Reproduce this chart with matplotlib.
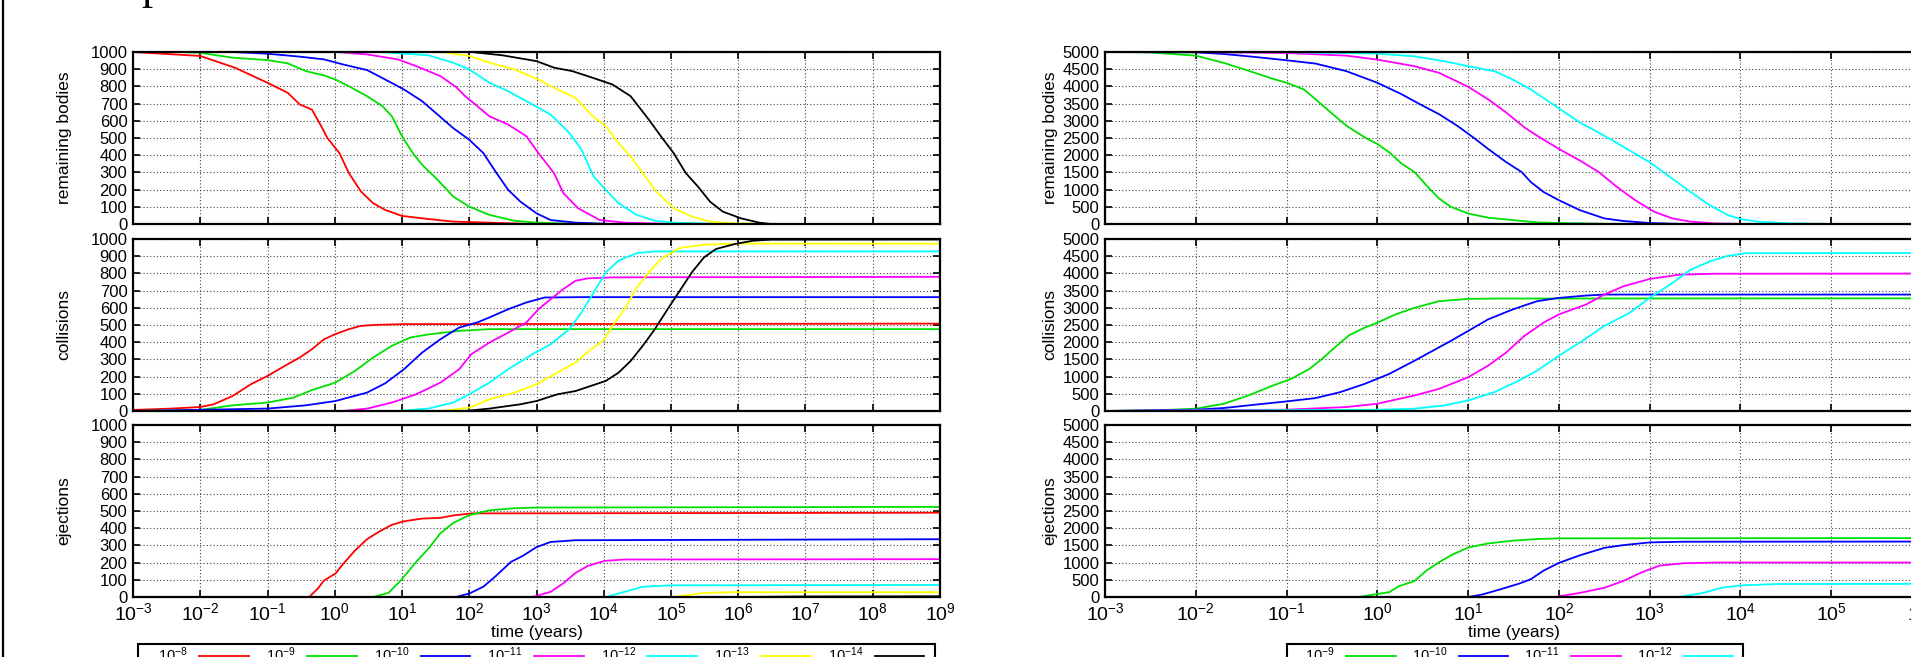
import numpy as np
import matplotlib
matplotlib.use('Agg')
import matplotlib.pyplot as plt
from matplotlib.lines import Line2D
from matplotlib.patches import Rectangle
from matplotlib.ticker import FixedLocator, NullLocator, FuncFormatter

W, H = 1911, 657
plt.rcParams['font.family'] = 'Liberation Sans'
plt.rcParams['mathtext.fontset'] = 'custom'
plt.rcParams['mathtext.rm'] = 'Liberation Sans'
plt.rcParams['mathtext.it'] = 'Liberation Sans:italic'

##############################
# data: log10(time / years) and counts
left_labels = [r'$10^{-8}$', r'$10^{-9}$', r'$10^{-10}$', r'$10^{-11}$',
               r'$10^{-12}$', r'$10^{-13}$', r'$10^{-14}$']
left_colors = ['#ff0000', '#00e000', '#0000ff', '#ff00ff', '#00ffff', '#ffff00', '#000000']
right_labels = left_labels[1:5]
right_colors = left_colors[1:5]

left_rem_lt = [
    [-3, -2, -1.48, -1, -0.7, -0.52, -0.34, -0.2, -0.11, 0.07, 0.21, 0.39, 0.57, 0.75, 1.0, 1.39, 1.76, 2.3, 2.94, 9],
    [-3, -2.25, -2, -1.52, -1, -0.7, -0.43, -0.16, 0.01, 0.21, 0.48, 0.71, 0.85, 1.0, 1.16, 1.3, 1.53, 1.76, 2.0, 2.3, 2.67, 3.0, 3.67, 9],
    [-3, -1.52, -1, -0.52, -0.16, 0.12, 0.48, 0.75, 1.03, 1.3, 1.53, 1.76, 2.0, 2.21, 2.39, 2.58, 2.76, 3.0, 3.21, 3.58, 4.13, 9],
    [-3, 0.03, 0.48, 0.94, 1.21, 1.57, 1.8, 1.94, 2.12, 2.3, 2.58, 2.85, 3.03, 3.26, 3.4, 3.62, 3.94, 4.31, 5.04, 9],
    [-3, 0.66, 1.39, 1.76, 2.0, 2.3, 2.58, 2.94, 3.21, 3.49, 3.67, 3.85, 4.03, 4.22, 4.49, 4.76, 5.04, 5.77, 9],
    [-3, 1.57, 2.0, 2.3, 2.67, 3.03, 3.31, 3.58, 3.81, 4.03, 4.22, 4.4, 4.58, 4.76, 5.04, 5.31, 5.58, 5.95, 6.49, 9],
    [-3, 2.03, 2.49, 3.0, 3.26, 3.53, 3.76, 4.13, 4.4, 4.67, 4.85, 5.04, 5.22, 5.4, 5.58, 5.77, 6.04, 6.31, 6.49, 9],
]
left_rem_n = [
    [1000, 977, 908, 821, 763, 695, 665, 568, 500, 412, 296, 189, 121, 82, 47, 29, 14, 8, 0, 0],
    [1000, 1000, 995, 967, 953, 934, 889, 864, 840, 801, 743, 685, 626, 510, 412, 344, 257, 160, 101, 53, 19, 8, 0, 0],
    [1000, 1000, 990, 973, 957, 928, 895, 840, 782, 714, 636, 558, 490, 412, 305, 198, 130, 62, 23, 8, 0, 0],
    [1000, 1000, 986, 957, 918, 860, 798, 743, 685, 626, 578, 510, 412, 296, 179, 91, 23, 8, 0, 0],
    [1000, 1000, 981, 938, 899, 821, 772, 695, 636, 529, 432, 276, 198, 121, 53, 19, 8, 0, 0],
    [1000, 1000, 977, 938, 899, 840, 782, 733, 636, 568, 471, 393, 296, 198, 91, 43, 14, 4, 0, 0],
    [1000, 1000, 981, 947, 909, 889, 860, 811, 743, 607, 510, 412, 296, 218, 130, 72, 33, 8, 0, 0],
]

left_col_lt = [
    [-3, -2.44, -2, -1.8, -1.52, -1.25, -1, -0.7, -0.52, -0.34, -0.16, 0.01, 0.21, 0.39, 0.62, 1.03, 9],
    [-3, -2, -1.52, -1, -0.61, -0.34, 0.01, 0.3, 0.57, 0.85, 1.12, 1.39, 1.85, 2.3, 9],
    [-3, -1, -0.43, 0.01, 0.48, 0.75, 1.03, 1.3, 1.57, 1.85, 2.12, 2.3, 2.58, 2.85, 3.12, 3.67, 9],
    [-3, 0.12, 0.48, 0.85, 1.21, 1.57, 1.85, 2.03, 2.3, 2.58, 2.85, 3.03, 3.21, 3.4, 3.58, 3.76, 4.13, 9],
    [-3, 0.94, 1.39, 1.76, 2.0, 2.3, 2.58, 2.94, 3.21, 3.49, 3.67, 3.85, 4.03, 4.22, 4.49, 4.76, 9],
    [-3, 1.57, 2.0, 2.3, 2.67, 3.0, 3.31, 3.58, 3.81, 3.99, 4.13, 4.31, 4.49, 4.67, 4.85, 5.13, 5.49, 5.95, 9],
    [-3, 1.94, 2.3, 2.76, 3.0, 3.31, 3.58, 3.81, 4.03, 4.22, 4.4, 4.58, 4.76, 4.95, 5.13, 5.31, 5.49, 5.67, 5.95, 6.22, 6.49, 9],
]
left_col_n = [
    [6, 14, 23, 39, 87, 155, 204, 272, 311, 359, 417, 447, 476, 495, 501, 505, 508],
    [0, 6, 33, 49, 78, 122, 165, 233, 311, 379, 427, 445, 466, 476, 476],
    [0, 14, 33, 58, 107, 161, 243, 340, 417, 485, 515, 544, 592, 631, 660, 662, 662],
    [0, 0, 14, 49, 97, 165, 243, 330, 398, 456, 515, 592, 650, 709, 757, 771, 777, 780],
    [0, 0, 14, 49, 97, 165, 243, 330, 388, 476, 573, 689, 806, 874, 918, 928, 928],
    [0, 0, 19, 68, 107, 155, 223, 282, 359, 408, 495, 592, 718, 806, 883, 948, 967, 973, 973],
    [0, 0, 14, 39, 58, 97, 116, 146, 175, 223, 291, 379, 476, 592, 699, 806, 893, 942, 971, 990, 996, 997],
]

left_ej_lt = [
    [-3, -0.38, -0.25, -0.16, 0.01, 0.12, 0.3, 0.48, 0.66, 0.85, 1.03, 1.3, 1.57, 1.76, 2.03, 9],
    [-3, 0.57, 0.8, 1.0, 1.21, 1.39, 1.57, 1.76, 2.0, 2.3, 2.67, 3.0, 9],
    [-3, 1.8, 2.0, 2.21, 2.39, 2.62, 2.8, 3.0, 3.21, 3.58, 9],
    [-3, 2.94, 3.21, 3.4, 3.58, 3.76, 4.01, 4.31, 9],
    [-3, 4.03, 4.4, 4.58, 5.01, 9],
    [-3, 5.04, 5.49, 5.95, 9],
    [-3, 6.0, 7.0, 9],
]
left_ej_n = [
    [0, 0, 50, 96, 136, 190, 270, 336, 380, 420, 440, 456, 460, 474, 486, 490],
    [0, 0, 24, 104, 204, 280, 370, 430, 476, 504, 516, 520, 524],
    [0, 0, 20, 60, 120, 204, 240, 290, 320, 330, 336],
    [0, 0, 30, 80, 140, 180, 210, 218, 220],
    [0, 0, 40, 60, 68, 70],
    [0, 0, 24, 28, 28],
    [0, 0, 3, 4],
]

right_rem_lt = [
    [-3, -2.51, -2, -1.69, -1.35, -1.15, -1, -0.81, -0.68, -0.47, -0.34, -0.14, 0, 0.13, 0.27, 0.41, 0.54, 0.68, 0.81, 1.0, 1.22, 1.49, 1.76, 2.0, 2.71, 9],
    [-3, -2, -1.69, -1.35, -1, -0.68, -0.34, 0, 0.27, 0.47, 0.68, 0.88, 1.08, 1.22, 1.42, 1.59, 1.69, 1.83, 2.0, 2.23, 2.5, 2.71, 3.0, 3.38, 9],
    [-3, -2, -1, -0.34, 0, 0.41, 0.68, 1.0, 1.22, 1.42, 1.62, 1.76, 2.0, 2.23, 2.44, 2.64, 2.84, 3.05, 3.25, 3.45, 3.72, 4.06, 9],
    [-3, -1, 0, 0.41, 0.74, 1.0, 1.29, 1.49, 1.69, 1.96, 2.23, 2.5, 2.78, 3.0, 3.25, 3.45, 3.66, 3.86, 4.0, 4.2, 4.54, 5.08, 9],
]
right_rem_n = [
    [5000, 4990, 4894, 4683, 4394, 4221, 4106, 3913, 3625, 3144, 2856, 2519, 2327, 2087, 1750, 1510, 1125, 740, 500, 308, 183, 115, 48, 29, 0, 0],
    [5000, 4990, 4942, 4856, 4760, 4663, 4442, 4106, 3769, 3481, 3192, 2856, 2471, 2183, 1798, 1510, 1221, 933, 692, 404, 163, 87, 29, 0, 0],
    [5000, 4998, 4971, 4894, 4779, 4587, 4394, 3990, 3625, 3240, 2808, 2567, 2183, 1846, 1510, 1077, 692, 356, 163, 67, 19, 0, 0],
    [5000, 4995, 4952, 4875, 4731, 4587, 4442, 4202, 3913, 3433, 2952, 2567, 2135, 1798, 1317, 933, 548, 260, 144, 67, 19, 0, 0],
]

right_col_lt = [
    [-3, -2.44, -2, -1.69, -1.42, -1.15, -0.95, -0.75, -0.61, -0.47, -0.31, -0.14, 0, 0.2, 0.41, 0.68, 1.0, 1.35, 9],
    [-3, -2, -1.69, -1.35, -1, -0.68, -0.41, -0.14, 0.13, 0.41, 0.61, 0.81, 1.0, 1.22, 1.49, 1.76, 2.0, 2.3, 2.5, 9],
    [-3, -1, -0.34, 0, 0.41, 0.68, 1.0, 1.22, 1.42, 1.62, 1.83, 2.0, 2.3, 2.5, 2.71, 3.0, 3.32, 3.72, 9],
    [-3, 0, 0.41, 0.74, 1.0, 1.29, 1.56, 1.76, 2.0, 2.23, 2.5, 2.78, 3.0, 3.25, 3.45, 3.66, 3.86, 4.06, 9],
]
right_col_n = [
    [0, 19, 67, 212, 452, 740, 933, 1221, 1510, 1846, 2202, 2423, 2567, 2808, 3000, 3192, 3260, 3269, 3279],
    [0, 38, 87, 183, 279, 375, 548, 788, 1077, 1462, 1750, 2038, 2327, 2663, 2952, 3192, 3288, 3356, 3385, 3385],
    [0, 38, 115, 212, 452, 644, 981, 1317, 1702, 2183, 2567, 2808, 3096, 3385, 3625, 3837, 3962, 3990, 4000],
    [0, 38, 67, 163, 308, 548, 885, 1173, 1606, 1990, 2471, 2856, 3288, 3721, 4106, 4346, 4510, 4587, 4606],
]

right_ej_lt = [
    [-3, -0.2, 0, 0.13, 0.24, 0.41, 0.54, 0.68, 0.81, 1.0, 1.22, 1.49, 1.76, 2.03, 9],
    [-3, 1.0, 1.15, 1.35, 1.56, 1.69, 1.83, 2.0, 2.23, 2.5, 2.71, 3.0, 3.38, 9],
    [-3, 1.96, 2.23, 2.5, 2.71, 2.91, 3.11, 3.38, 3.72, 9],
    [-3, 3.32, 3.59, 3.79, 4.0, 4.4, 9],
]
right_ej_n = [
    [0, 0, 89, 139, 317, 466, 764, 1012, 1210, 1438, 1557, 1637, 1686, 1706, 1716],
    [0, 0, 69, 218, 387, 516, 764, 992, 1210, 1428, 1508, 1587, 1607, 1617],
    [0, 0, 119, 268, 466, 714, 913, 982, 1002, 1003],
    [0, 0, 119, 268, 337, 377, 390],
]

ylabels = ['remaining bodies', 'collisions', 'ejections']

##############################
fig = plt.figure(figsize=(W/100, H/100), dpi=100)

def px(x0, y0, x1, y1):
    # pixel box -> figure fraction rect
    return [x0/W, 1-y1/H, (x1-x0)/W, (y1-y0)/H]

tops = [52, 239, 425]
hgt = 172

def decade_fmt(v, pos):
    return r'$10^{%d}$' % int(round(np.log10(v)))

def make_panel(x0, x1, top, xmax, ymax, ystep, bottom):
    ax = fig.add_axes(px(x0, top, x1, top+hgt))
    ax.set_xscale('log')
    ax.set_xlim(1e-3, 10.0**xmax)
    ax.set_ylim(0, ymax)
    ax.xaxis.set_major_locator(FixedLocator(10.0**np.arange(-3, xmax+1)))
    ax.xaxis.set_minor_locator(NullLocator())
    ax.set_yticks(np.arange(0, ymax+1, ystep))
    ax.grid(True, color='#444444', ls=(0, (1, 2)), lw=0.8)
    ax.tick_params(axis='both', direction='in', top=True, right=True,
                   length=5, width=1.2, colors='black')
    ax.tick_params(axis='y', labelsize=12, pad=4)
    ax.tick_params(axis='x', labelsize=14, pad=4)
    if bottom:
        ax.xaxis.set_major_formatter(FuncFormatter(decade_fmt))
    else:
        ax.set_xticklabels([])
    for s in ax.spines.values():
        s.set_linewidth(1.6)
    return ax

def draw(ax, lts, ns, colors):
    for lt, n, c in zip(lts, ns, colors):
        ax.plot(10.0**np.array(lt), n, color=c, lw=1.3)

# left block
lx0, lx1 = 133, 940
left_sets = [(left_rem_lt, left_rem_n), (left_col_lt, left_col_n), (left_ej_lt, left_ej_n)]
for i, (lts, ns) in enumerate(left_sets):
    ax = make_panel(lx0, lx1, tops[i], 9, 1000, 100, i == 2)
    draw(ax, lts, ns, left_colors)
    fig.text(64/W, 1-(tops[i]+hgt/2)/H, ylabels[i], rotation=90,
             ha='center', va='center', fontsize=12.5)

# right block (runs past the right edge of the page)
rx0, rx1 = 1105, 1922
right_sets = [(right_rem_lt, right_rem_n), (right_col_lt, right_col_n), (right_ej_lt, right_ej_n)]
for i, (lts, ns) in enumerate(right_sets):
    ax = make_panel(rx0, rx1, tops[i], 6, 5000, 500, i == 2)
    draw(ax, lts, ns, right_colors)
    fig.text(1050/W, 1-(tops[i]+hgt/2)/H, ylabels[i], rotation=90,
             ha='center', va='center', fontsize=12.5)

fig.text((lx0+lx1)/2/W, 1-633/H, 'time (years)', ha='center', va='center', fontsize=12.5)
fig.text((rx0+rx1)/2/W, 1-633/H, 'time (years)', ha='center', va='center', fontsize=12.5)

def add_legend(fx0, fx1, x0, x1, labels, colors):
    # key box runs off the bottom of the page
    fig.add_artist(Rectangle((fx0/W, 1-680/H), (fx1-fx0)/W, 36/H,
                             transform=fig.transFigure, fill=False,
                             edgecolor='black', lw=1.5))
    handles = [Line2D([], [], color=c, lw=1.3) for c in colors]
    leg = fig.legend(handles, labels, loc='upper left',
                     bbox_to_anchor=(x0/W, 1-644/H, (x1-x0)/W, 0),
                     mode='expand', ncol=len(labels), markerfirst=False,
                     frameon=False, borderaxespad=0, handlelength=3.4,
                     handletextpad=0.8, borderpad=0.12,
                     prop={'family': 'Liberation Serif', 'size': 10.5})
    return leg

add_legend(138, 935, 156, 926, left_labels, left_colors)
add_legend(1287, 1743, 1303, 1735, right_labels, right_colors)

# page decorations
fig.add_artist(Line2D([3/W, 3/W], [0, 1], color='black', lw=1.6))
fig.text(141/W, 1+1/H, 'p', family='Liberation Serif', fontsize=32,
         ha='left', va='baseline')

fig.savefig('out.png', dpi=100)
